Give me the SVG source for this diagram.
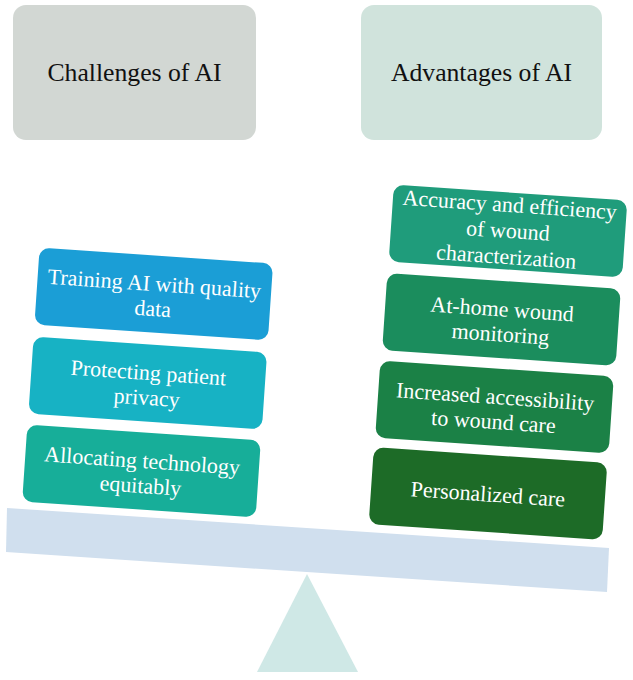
<svg xmlns="http://www.w3.org/2000/svg" width="633" height="680" viewBox="0 0 633 680">
<style>
.hdr{font-size:25.7px;fill:#111;text-anchor:middle}
.lbl{font-size:22px;fill:#ffffff;text-anchor:middle}
</style>
<defs>
<rect id="card" x="-117" y="-38.5" width="234" height="77" rx="10"/>
</defs>
<rect width="633" height="680" fill="#ffffff"/>
<g id="scale">
<polygon points="7,508 609,548 607,592 6,552" fill="#D0DFEE"/>
<polygon points="307,574 358,672 257,672" fill="#CFE8E6"/>
</g>
<g font-family="'Liberation Serif', 'DejaVu Serif', serif">
<g id="challenges">
<rect x="13" y="5" width="243" height="135" rx="13" fill="#D2D7D3"/>
<text class="hdr" x="134.5" y="81">Challenges of AI</text>
</g>
<g id="advantages">
<rect x="361" y="5" width="241" height="135" rx="13" fill="#D0E3DC"/>
<text class="hdr" x="481.5" y="81">Advantages of AI</text>
</g>
<g id="training" transform="translate(153.75,294) rotate(3.9)">
<use href="#card" fill="#1B9ED6"/>
<text class="lbl" y="-3">Training AI with quality</text>
<text class="lbl" y="22">data</text>
</g>
<g id="privacy" transform="translate(147.75,383) rotate(3.9)">
<use href="#card" fill="#17B2C4"/>
<text class="lbl" y="-3">Protecting patient</text>
<text class="lbl" y="22">privacy</text>
</g>
<g id="equity" transform="translate(141.5,471) rotate(3.9)">
<use href="#card" fill="#17AE99"/>
<text class="lbl" y="-3">Allocating technology</text>
<text class="lbl" y="22">equitably</text>
</g>
<g id="accuracy" transform="translate(508,231) rotate(3.9)">
<use href="#card" fill="#1F9C7B"/>
<text class="lbl" y="-19">Accuracy and efficiency</text>
<text class="lbl" y="7">of wound</text>
<text class="lbl" y="33">characterization</text>
</g>
<g id="athome" transform="translate(501.5,319.5) rotate(3.9)">
<use href="#card" fill="#1B8D5D"/>
<text class="lbl" y="-3">At-home wound</text>
<text class="lbl" y="22">monitoring</text>
</g>
<g id="access" transform="translate(494.5,407) rotate(3.9)">
<use href="#card" fill="#1B8146"/>
<text class="lbl" y="-3">Increased accessibility</text>
<text class="lbl" y="22">to wound care</text>
</g>
<g id="personal" transform="translate(488,493.5) rotate(3.9)">
<use href="#card" fill="#1D6B27"/>
<text class="lbl" y="8">Personalized care</text>
</g>
</g>
<g id="connectors"></g>
</svg>
